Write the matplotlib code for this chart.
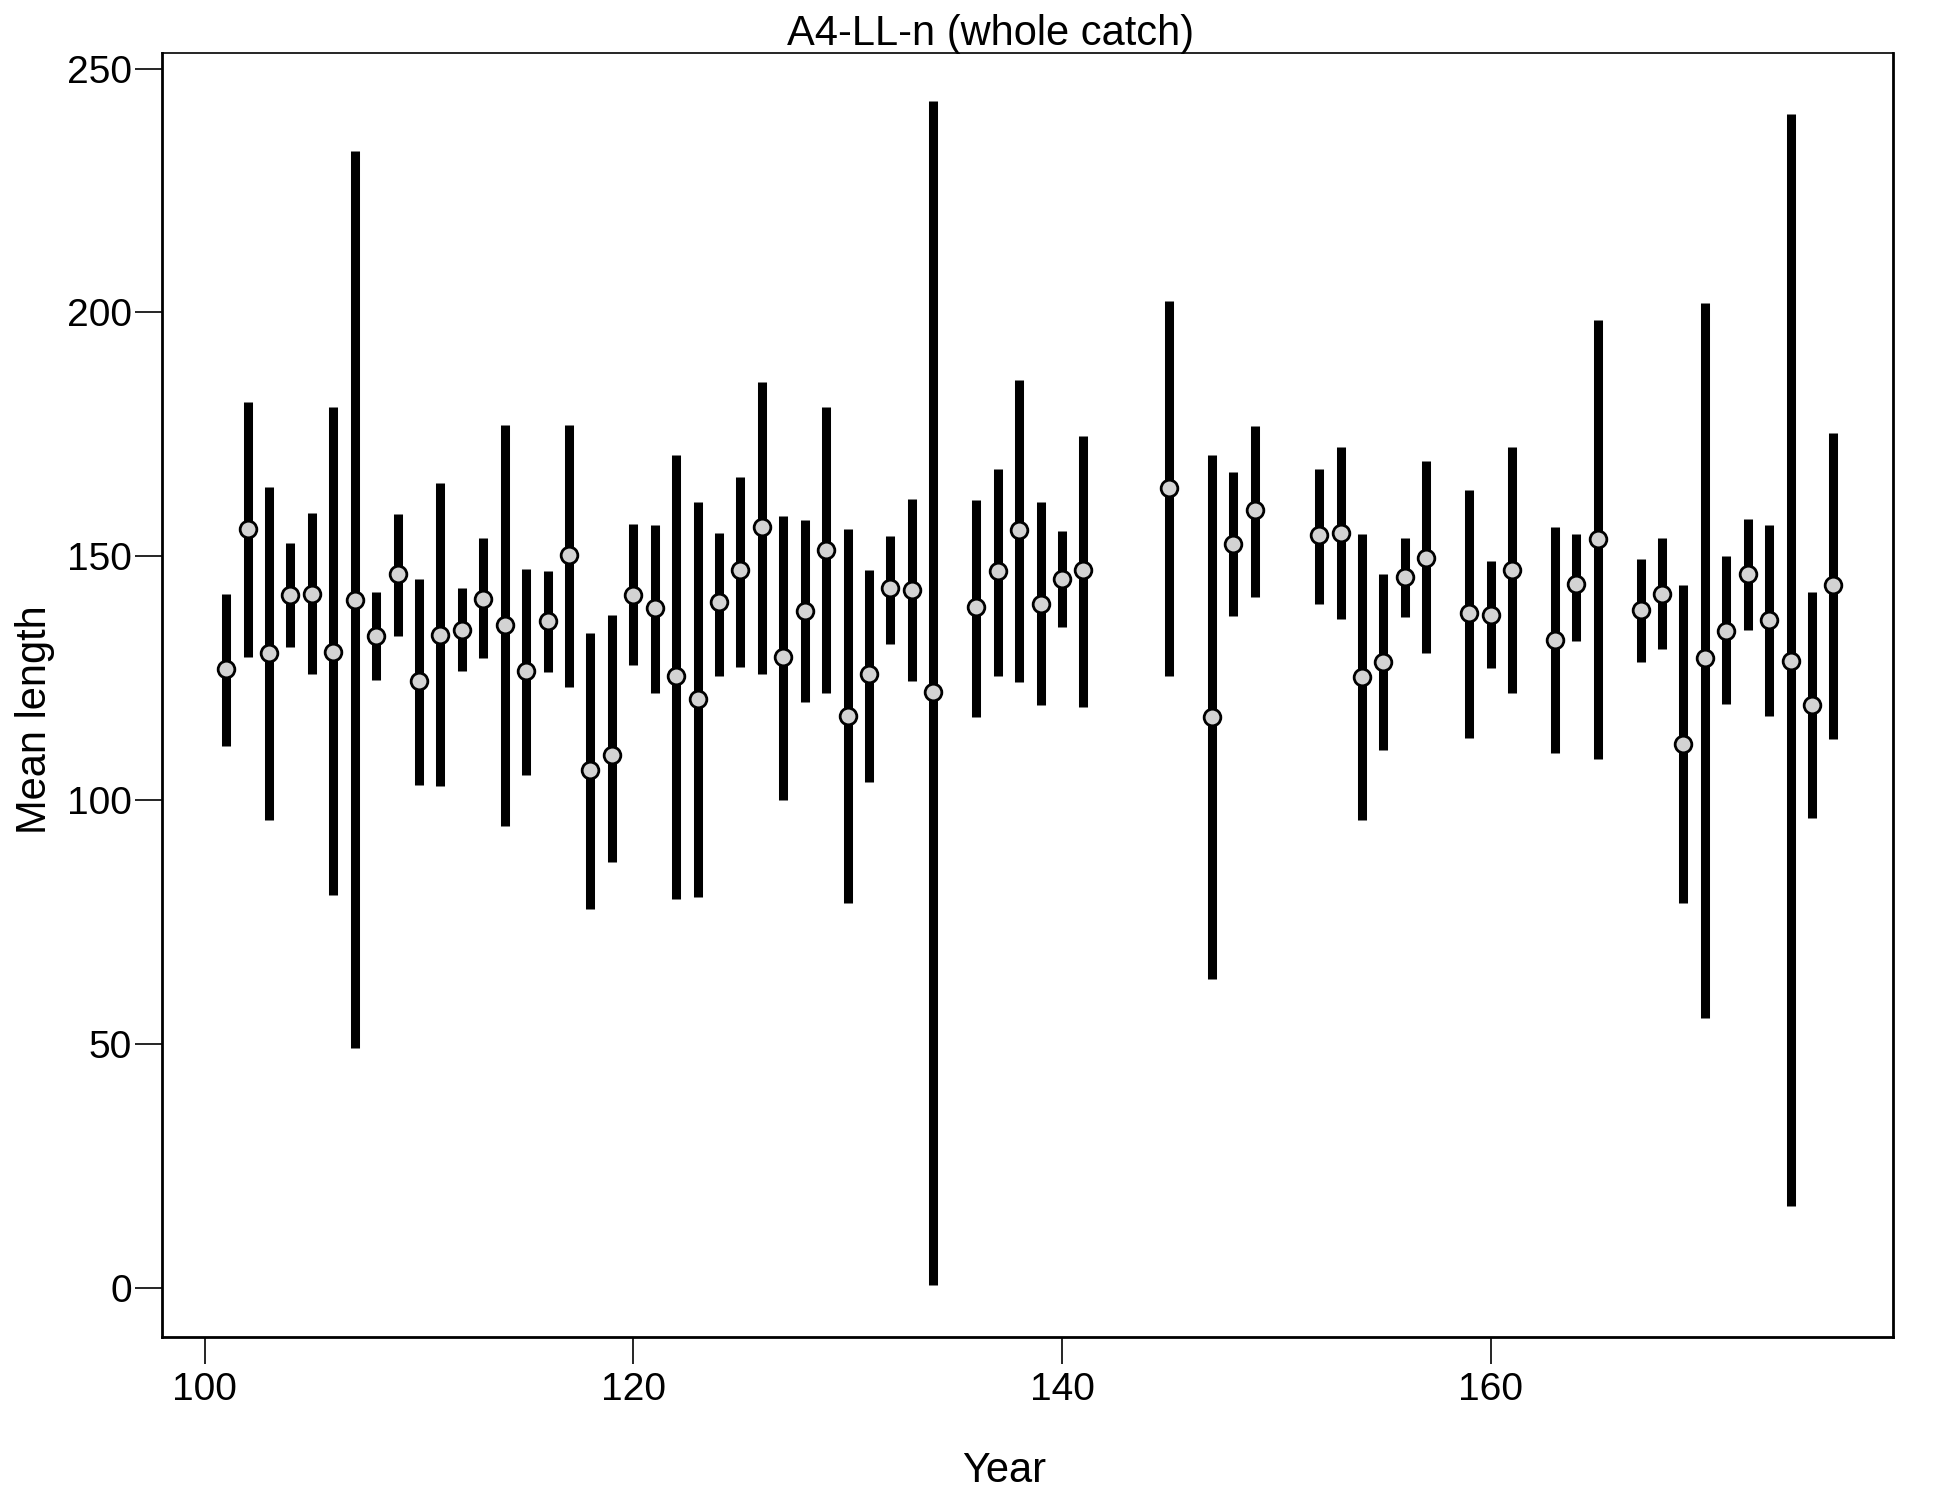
import matplotlib
matplotlib.use("Agg")
import matplotlib.pyplot as plt
import numpy as np

plt.rcParams['font.family'] = ['Liberation Sans', 'DejaVu Sans']

years = [101, 102, 103, 104, 105, 106, 107, 108, 109, 110,
         111, 112, 113, 114, 115, 116, 117, 118, 119, 120,
         121, 122, 123, 124, 125, 126, 127, 128, 129, 130,
         131, 132, 133, 134, 136, 137, 138, 139, 140, 141,
         145, 147, 148, 149, 152, 153, 154, 155, 156, 157,
         159, 160, 161, 163, 164, 165, 167, 168, 169, 170,
         171, 172, 173, 174, 175, 176]
mean_len = [126.8, 155.6, 130.1, 142.1, 142.3, 130.4, 141.1, 133.7, 146.4, 124.5,
            133.9, 134.9, 141.3, 136.0, 126.5, 136.7, 150.3, 106.1, 109.2, 142.1,
            139.3, 125.5, 120.7, 140.6, 147.2, 155.9, 129.3, 138.8, 151.3, 117.3,
            125.8, 143.4, 143.1, 122.2, 139.5, 146.9, 155.4, 140.3, 145.4, 147.2,
            164.0, 117.1, 152.6, 159.4, 154.3, 154.8, 125.3, 128.3, 145.7, 149.7,
            138.3, 138.0, 147.2, 132.9, 144.4, 153.6, 139.0, 142.3, 111.5, 129.1,
            134.7, 146.4, 137.0, 128.6, 119.4, 144.1]
upper = [142.3, 181.6, 164.3, 152.8, 158.9, 180.6, 233.2, 142.6, 158.7, 145.4,
         165.1, 143.4, 153.8, 177.0, 147.4, 146.9, 177.0, 134.2, 138.0, 156.6,
         156.4, 170.7, 161.2, 154.8, 166.3, 185.7, 158.2, 157.4, 180.6, 155.6,
         147.2, 154.1, 161.7, 243.4, 161.5, 167.9, 186.2, 161.2, 155.1, 174.7,
         202.3, 170.7, 167.3, 176.8, 167.9, 172.4, 154.6, 146.4, 153.8, 169.6,
         163.5, 149.0, 172.4, 156.1, 154.6, 198.5, 149.5, 153.8, 144.1, 202.0,
         150.0, 157.7, 156.4, 240.6, 142.6, 175.3]
lower = [111.0, 129.3, 95.9, 131.4, 125.8, 80.6, 49.2, 124.7, 133.7, 103.1,
         102.8, 126.5, 129.1, 94.6, 105.1, 126.3, 123.2, 77.6, 87.2, 127.6,
         121.9, 79.8, 80.1, 125.5, 127.3, 125.8, 100.0, 120.2, 121.9, 78.8,
         103.8, 132.1, 124.5, 0.5, 117.1, 125.5, 124.2, 119.4, 135.5, 119.1,
         125.5, 63.3, 137.8, 141.6, 140.3, 137.2, 95.9, 110.2, 137.5, 130.1,
         112.8, 127.0, 121.9, 109.7, 132.7, 108.4, 128.3, 130.9, 78.8, 55.4,
         119.6, 134.9, 117.3, 16.8, 96.4, 112.5]

x_ticks = [100, 120, 140, 160]
y_ticks = [0, 50, 100, 150, 200, 250]

fig = plt.figure(figsize=(19.5, 15), dpi=100)
ax = fig.add_axes([0.083, 0.109, 0.888, 0.856])

ax.vlines(years, lower, upper, colors='black', linewidth=6.5, zorder=2)
ax.plot(years, mean_len, linestyle='none', marker='o', markersize=12,
        markerfacecolor='#d3d3d3', markeredgecolor='black', markeredgewidth=2.0, zorder=3)

ax.set_xlim(98.0, 178.8)
ax.set_ylim(-10, 253.3)
ax.set_xticks(x_ticks)
ax.set_yticks(y_ticks)
ax.tick_params(axis='both', which='major', direction='out', length=19.5, width=1.2,
               labelsize=28, colors='black')
ax.tick_params(axis='y', pad=2)
ax.tick_params(axis='x', pad=6)
for side in ['left', 'bottom', 'right']:
    ax.spines[side].set_linewidth(2.0)
ax.spines['top'].set_linewidth(1.2)

fig.text(0.508, 0.970, 'A4-LL-n (whole catch)', fontsize=30, ha='center', va='baseline')
fig.text(0.515, 0.012, 'Year', fontsize=30, ha='center', va='baseline')
fig.text(0.018, 0.52, 'Mean length', fontsize=30, ha='center', va='center', rotation=90)

fig.savefig('out.png', dpi=100, facecolor='white')
